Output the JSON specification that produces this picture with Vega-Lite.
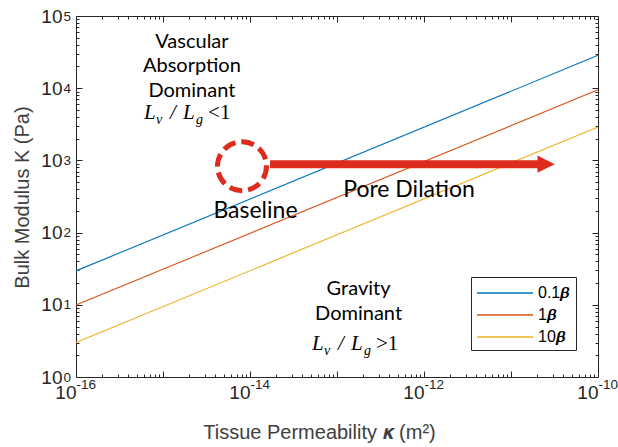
{
  "$schema": "https://vega.github.io/schema/vega-lite/v6.json",
  "width": 522,
  "height": 361,
  "autosize": {"type": "none"},
  "padding": {"left": 76, "top": 16, "right": 20, "bottom": 70},
  "background": "white",
  "config": {
    "view": {"stroke": null},
    "axis": {"grid": false, "domainColor": "#262626", "tickColor": "#262626", "labelColor": "#262626", "titleColor": "#404040", "labelFont": "Liberation Sans", "titleFont": "Liberation Sans", "labelOverlap": false}
  },
  "datasets": {
    "lines": [
      {"s": "0.1𝜷", "k": 1e-16, "K": 29.5},
      {"s": "0.1𝜷", "k": 1e-10, "K": 28500},
      {"s": "1𝜷", "k": 1e-16, "K": 9.9},
      {"s": "1𝜷", "k": 1e-10, "K": 9500},
      {"s": "10𝜷", "k": 1e-16, "K": 3.0},
      {"s": "10𝜷", "k": 1e-10, "K": 2900}
    ],
    "ann": [
      {"g": "block", "txt": "Vascular", "k": 2.15e-15, "K": 35700},
      {"g": "block", "txt": "Absorption", "k": 2.15e-15, "K": 16630},
      {"g": "block", "txt": "Dominant", "k": 2.15e-15, "K": 7500},
      {"g": "block", "txt": "Gravity", "k": 1.77e-13, "K": 13.6},
      {"g": "block", "txt": "Dominant", "k": 1.77e-13, "K": 6.15},
      {"g": "big", "txt": "Baseline", "k": 1.156e-14, "K": 158.6},
      {"g": "big", "txt": "Pore Dilation", "k": 6.73e-13, "K": 310},
      {"g": "formula", "cmp": "<1", "k": 1.89e-15, "K": 3717},
      {"g": "formula", "cmp": ">1", "k": 1.61e-13, "K": 2.36},
      {"g": "circle", "k": 8.09e-15, "K": 832},
      {"g": "arrow", "k": 1.7e-14, "k2": 2.15e-11, "K": 887},
      {"g": "head", "k": 2.53e-11, "K": 887}
    ]
  },
  "resolve": {"axis": {"x": "independent", "y": "independent"}},
  "layer": [
    {
      "data": {"name": "lines"},
      "mark": {"type": "line", "strokeWidth": 1.1},
      "encoding": {
        "x": {"field": "k", "type": "quantitative", "scale": {"type": "log", "domain": [1e-16, 1e-10], "nice": false},
          "axis": {"orient": "bottom", "values": [1e-16, 1e-15, 1e-14, 1e-13, 1e-12, 1e-11, 1e-10], "labels": false, "tickSize": -6, "domainWidth": 1, "title": "Tissue Permeability 𝜿 (m²)", "titleFontSize": 20, "titleFontWeight": "normal", "titleY": 61, "titleX": 243, "titleBaseline": "alphabetic"}},
        "y": {"field": "K", "type": "quantitative", "scale": {"type": "log", "domain": [1, 100000], "nice": false},
          "axis": {"orient": "left", "values": [1, 10, 100, 1000, 10000, 100000], "labels": false, "tickSize": -6, "domainWidth": 1, "title": "Bulk Modulus K (Pa)", "titleFontSize": 20, "titleFontWeight": "normal", "titleX": -48, "titleY": 181, "titleAngle": -90, "titleAlign": "center", "titleBaseline": "alphabetic"}},
        "color": {"field": "s", "type": "nominal",
          "scale": {"domain": ["0.1𝜷", "1𝜷", "10𝜷"], "range": ["#0072BD", "#D95319", "#EDB120"]},
          "legend": {"orient": "none", "legendX": 395, "legendY": 261, "title": null, "symbolType": "M-2.8,0L2.8,0", "symbolSize": 400, "symbolStrokeWidth": 1.3, "symbolOffset": 18, "labelOffset": 22, "labelFontSize": 16, "labelFont": "Liberation Sans", "labelColor": "#000000", "strokeColor": "#262626", "fillColor": "white", "padding": 5, "rowPadding": 3}}
      }
    },
    {
      "data": {"name": "lines"},
      "mark": {"type": "point", "opacity": 0},
      "encoding": {
        "x": {"field": "k", "type": "quantitative", "scale": {"type": "log", "domain": [1e-16, 1e-10], "nice": false},
          "axis": {"orient": "bottom", "values": [1e-16, 1e-14, 1e-12, 1e-10], "ticks": false, "domain": false, "labelExpr": "'10'", "labelFontSize": 19, "labelAlign": "right", "labelPadding": 6, "labelBaseline": "top", "title": null}},
        "y": {"field": "K", "type": "quantitative", "scale": {"type": "log", "domain": [1, 100000], "nice": false},
          "axis": {"orient": "left", "values": [1, 10, 100, 1000, 10000, 100000], "ticks": false, "domain": false, "labelExpr": "'10'", "labelFontSize": 19, "labelPadding": 14, "labelDy": 5, "labelAlign": "right", "labelBaseline": "middle", "title": null}}
      }
    },
    {
      "data": {"name": "lines"},
      "mark": {"type": "point", "opacity": 0},
      "encoding": {
        "x": {"field": "k", "type": "quantitative", "scale": {"type": "log", "domain": [1e-16, 1e-10], "nice": false},
          "axis": {"orient": "bottom", "values": [1e-16, 1e-14, 1e-12, 1e-10], "ticks": false, "domain": false, "labelExpr": "'' + round(log(datum.value) / LN10)", "labelFontSize": 13.5, "labelAlign": "left", "labelPadding": 0, "labelBaseline": "top", "title": null}},
        "y": {"field": "K", "type": "quantitative", "scale": {"type": "log", "domain": [1, 100000], "nice": false},
          "axis": {"orient": "left", "values": [1, 10, 100, 1000, 10000, 100000], "ticks": false, "domain": false, "labelExpr": "'' + round(log(datum.value) / LN10)", "labelFontSize": 13.5, "labelPadding": 13, "labelDy": -1, "labelAlign": "left", "labelBaseline": "middle", "title": null}}
      }
    },
    {
      "data": {"name": "lines"},
      "mark": {"type": "point", "opacity": 0},
      "encoding": {
        "x": {"field": "k", "type": "quantitative", "scale": {"type": "log", "domain": [1e-16, 1e-10], "nice": false},
          "axis": {"orient": "bottom", "values": [2e-16, 3e-16, 4e-16, 5e-16, 6e-16, 7e-16, 8e-16, 9e-16, 2e-15, 3e-15, 4e-15, 5e-15, 6e-15, 7e-15, 8e-15, 9e-15, 2e-14, 3e-14, 4e-14, 5e-14, 6e-14, 7e-14, 8e-14, 9e-14, 2e-13, 3e-13, 4e-13, 5e-13, 6e-13, 7e-13, 8e-13, 9e-13, 2e-12, 3e-12, 4e-12, 5e-12, 6e-12, 7e-12, 8e-12, 9e-12, 2e-11, 3e-11, 4e-11, 5e-11, 6e-11, 7e-11, 8e-11, 9e-11], "labels": false, "domain": false, "tickSize": -3, "title": null}},
        "y": {"field": "K", "type": "quantitative", "scale": {"type": "log", "domain": [1, 100000], "nice": false},
          "axis": {"orient": "left", "values": [2, 3, 4, 5, 6, 7, 8, 9, 20, 30, 40, 50, 60, 70, 80, 90, 200, 300, 400, 500, 600, 700, 800, 900, 2000, 3000, 4000, 5000, 6000, 7000, 8000, 9000, 20000, 30000, 40000, 50000, 60000, 70000, 80000, 90000], "labels": false, "domain": false, "tickSize": -3, "title": null}}
      }
    },
    {
      "data": {"name": "lines"},
      "mark": {"type": "point", "opacity": 0},
      "encoding": {
        "x": {"field": "k", "type": "quantitative", "scale": {"type": "log", "domain": [1e-16, 1e-10], "nice": false},
          "axis": {"orient": "top", "values": [1e-16, 1e-15, 1e-14, 1e-13, 1e-12, 1e-11, 1e-10], "labels": false, "tickSize": -6, "domainWidth": 1, "title": null}},
        "y": {"field": "K", "type": "quantitative", "scale": {"type": "log", "domain": [1, 100000], "nice": false},
          "axis": {"orient": "right", "values": [1, 10, 100, 1000, 10000, 100000], "labels": false, "tickSize": -6, "domainWidth": 1, "title": null}}
      }
    },
    {
      "data": {"name": "lines"},
      "mark": {"type": "point", "opacity": 0},
      "encoding": {
        "x": {"field": "k", "type": "quantitative", "scale": {"type": "log", "domain": [1e-16, 1e-10], "nice": false},
          "axis": {"orient": "top", "values": [2e-16, 3e-16, 4e-16, 5e-16, 6e-16, 7e-16, 8e-16, 9e-16, 2e-15, 3e-15, 4e-15, 5e-15, 6e-15, 7e-15, 8e-15, 9e-15, 2e-14, 3e-14, 4e-14, 5e-14, 6e-14, 7e-14, 8e-14, 9e-14, 2e-13, 3e-13, 4e-13, 5e-13, 6e-13, 7e-13, 8e-13, 9e-13, 2e-12, 3e-12, 4e-12, 5e-12, 6e-12, 7e-12, 8e-12, 9e-12, 2e-11, 3e-11, 4e-11, 5e-11, 6e-11, 7e-11, 8e-11, 9e-11], "labels": false, "domain": false, "tickSize": -3, "title": null}},
        "y": {"field": "K", "type": "quantitative", "scale": {"type": "log", "domain": [1, 100000], "nice": false},
          "axis": {"orient": "right", "values": [2, 3, 4, 5, 6, 7, 8, 9, 20, 30, 40, 50, 60, 70, 80, 90, 200, 300, 400, 500, 600, 700, 800, 900, 2000, 3000, 4000, 5000, 6000, 7000, 8000, 9000, 20000, 30000, 40000, 50000, 60000, 70000, 80000, 90000], "labels": false, "domain": false, "tickSize": -3, "title": null}}
      }
    },
    {
      "data": {"name": "ann"},
      "transform": [{"filter": "datum.g === 'block'"}],
      "mark": {"type": "text", "font": "Lato", "fontSize": 20, "align": "center", "baseline": "alphabetic", "color": "#000000"},
      "encoding": {
        "x": {"field": "k", "type": "quantitative", "scale": {"type": "log", "domain": [1e-16, 1e-10], "nice": false}, "axis": null},
        "y": {"field": "K", "type": "quantitative", "scale": {"type": "log", "domain": [1, 100000], "nice": false}, "axis": null},
        "text": {"field": "txt"}
      }
    },
    {
      "data": {"name": "ann"},
      "transform": [{"filter": "datum.g === 'big'"}],
      "mark": {"type": "text", "font": "Lato", "fontSize": 23, "align": "center", "baseline": "alphabetic", "color": "#000000"},
      "encoding": {
        "x": {"field": "k", "type": "quantitative", "scale": {"type": "log", "domain": [1e-16, 1e-10], "nice": false}, "axis": null},
        "y": {"field": "K", "type": "quantitative", "scale": {"type": "log", "domain": [1, 100000], "nice": false}, "axis": null},
        "text": {"field": "txt"}
      }
    },
    {
      "data": {"name": "ann"},
      "transform": [{"filter": "datum.g === 'formula'"}],
      "encoding": {
        "x": {"field": "k", "type": "quantitative", "scale": {"type": "log", "domain": [1e-16, 1e-10], "nice": false}, "axis": null},
        "y": {"field": "K", "type": "quantitative", "scale": {"type": "log", "domain": [1, 100000], "nice": false}, "axis": null}
      },
      "layer": [
        {"mark": {"type": "text", "text": "L", "font": "Liberation Serif", "fontStyle": "italic", "fontSize": 21, "align": "left", "baseline": "alphabetic", "dx": -43, "color": "#000000"}},
        {"mark": {"type": "text", "text": "v", "font": "Liberation Serif", "fontStyle": "italic", "fontSize": 14, "align": "left", "baseline": "alphabetic", "dx": -31, "dy": 5, "color": "#000000"}},
        {"mark": {"type": "text", "text": "/", "font": "Liberation Serif", "fontStyle": "italic", "fontSize": 21, "align": "left", "baseline": "alphabetic", "dx": -17, "color": "#000000"}},
        {"mark": {"type": "text", "text": "L", "font": "Liberation Serif", "fontStyle": "italic", "fontSize": 21, "align": "left", "baseline": "alphabetic", "dx": -4, "color": "#000000"}},
        {"mark": {"type": "text", "text": "g", "font": "Liberation Serif", "fontStyle": "italic", "fontSize": 14, "align": "left", "baseline": "alphabetic", "dx": 9, "dy": 5, "color": "#000000"}},
        {"mark": {"type": "text", "font": "Liberation Serif", "fontSize": 21, "align": "left", "baseline": "alphabetic", "dx": 21, "color": "#000000"}, "encoding": {"text": {"field": "cmp"}}}
      ]
    },
    {
      "data": {"name": "ann"},
      "transform": [{"filter": "datum.g === 'arrow'"}],
      "mark": {"type": "rule", "color": "#DD2C1E", "strokeWidth": 8, "strokeCap": "butt"},
      "encoding": {
        "x": {"field": "k", "type": "quantitative", "scale": {"type": "log", "domain": [1e-16, 1e-10], "nice": false}, "axis": null},
        "x2": {"field": "k2"},
        "y": {"field": "K", "type": "quantitative", "scale": {"type": "log", "domain": [1, 100000], "nice": false}, "axis": null}
      }
    },
    {
      "data": {"name": "ann"},
      "transform": [{"filter": "datum.g === 'head'"}],
      "mark": {"type": "point", "shape": "M-1,-1L1,0L-1,1Z", "size": 300, "filled": true, "color": "#DD2C1E", "opacity": 1, "strokeWidth": 0},
      "encoding": {
        "x": {"field": "k", "type": "quantitative", "scale": {"type": "log", "domain": [1e-16, 1e-10], "nice": false}, "axis": null},
        "y": {"field": "K", "type": "quantitative", "scale": {"type": "log", "domain": [1, 100000], "nice": false}, "axis": null}
      }
    },
    {
      "data": {"name": "ann"},
      "transform": [{"filter": "datum.g === 'circle'"}],
      "mark": {"type": "point", "shape": "circle", "size": 2400, "filled": false, "stroke": "#DD2C1E", "strokeWidth": 5, "strokeDash": [13, 6], "opacity": 1},
      "encoding": {
        "x": {"field": "k", "type": "quantitative", "scale": {"type": "log", "domain": [1e-16, 1e-10], "nice": false}, "axis": null},
        "y": {"field": "K", "type": "quantitative", "scale": {"type": "log", "domain": [1, 100000], "nice": false}, "axis": null}
      }
    }
  ]
}
